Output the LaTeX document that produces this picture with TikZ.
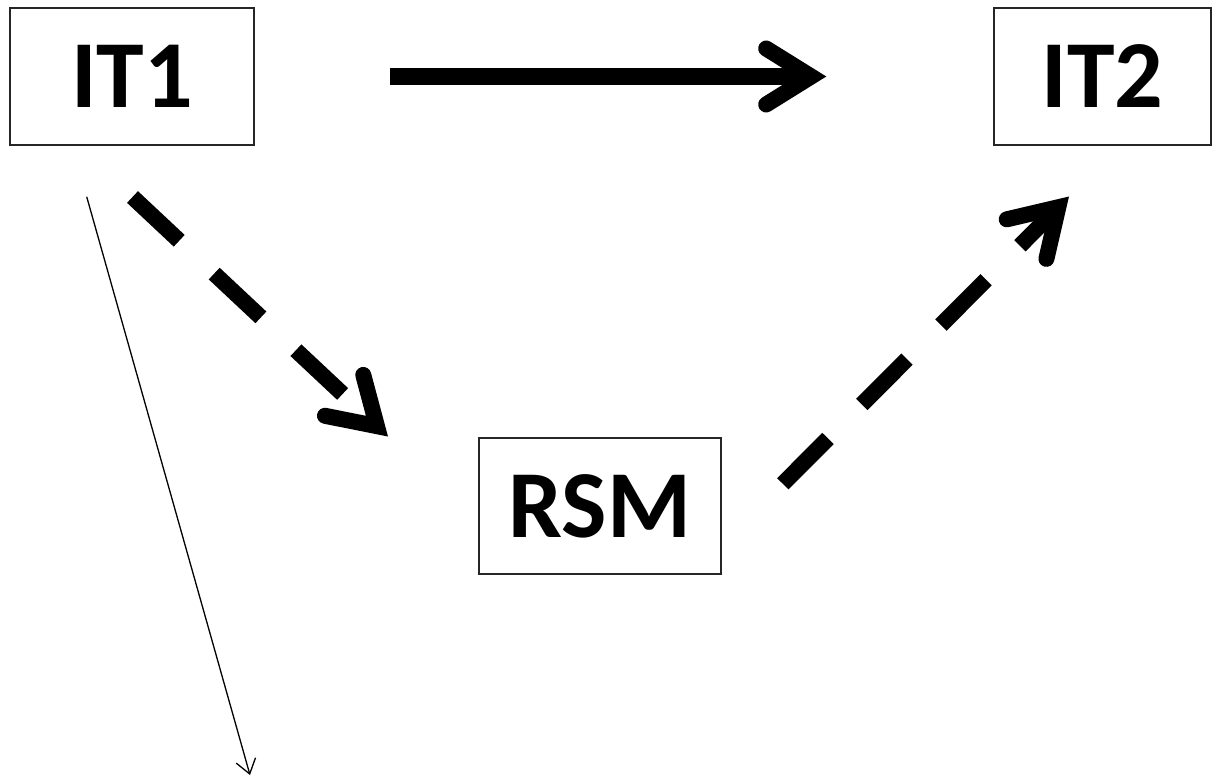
\documentclass[tikz,border=0pt]{standalone}
\usepackage{fontspec}
\setmainfont{Carlito}
\usetikzlibrary{arrows.meta}
\begin{document}
\begin{tikzpicture}[x=1pt,y=-1pt,
  box/.style={draw=black!85,line width=1.4pt,inner sep=0pt,minimum height=137pt,
    font=\fontsize{96}{100}\selectfont\bfseries},
  chev/.style={-{Straight Barb[length=45pt,width=56pt,line cap=round,line join=miter]}},
  bigarrow/.style={line width=16pt,chev},
  dasharrow/.style={bigarrow,dash pattern=on 64pt off 48pt},
  thinarrow/.style={line width=1.3pt,-{Straight Barb[length=14pt,width=20pt]}}]
  \useasboundingbox (0,0) rectangle (1220,776);
  % the three boxes
  \node[box,minimum width=244pt] (IT1) at (132,76.5) {IT1};
  \node[box,minimum width=217pt] (IT2) at (1102.5,76.5) {IT2};
  \node[box,minimum width=242pt,minimum height=136pt] (RSM) at (600,506) {RSM};
  % free ends of the connectors
  \coordinate (d1s) at (132.5,197);
  \coordinate (d1e) at (388,436.5);
  \coordinate (d2s) at (782.8,483.8);
  \coordinate (d2e) at (1069,196.5);
  \coordinate (ts) at (86.7,196.7);
  \coordinate (te) at (250,775);
  % connectors
  \draw[bigarrow,shorten <=135pt,shorten >=167pt] (IT1.east) -- (IT2.west);
  \draw[dasharrow] (d1s) -- (d1e);
  \draw[dasharrow] (d2s) -- (d2e);
  \draw[thinarrow] (ts) -- (te);
\end{tikzpicture}
\end{document}
